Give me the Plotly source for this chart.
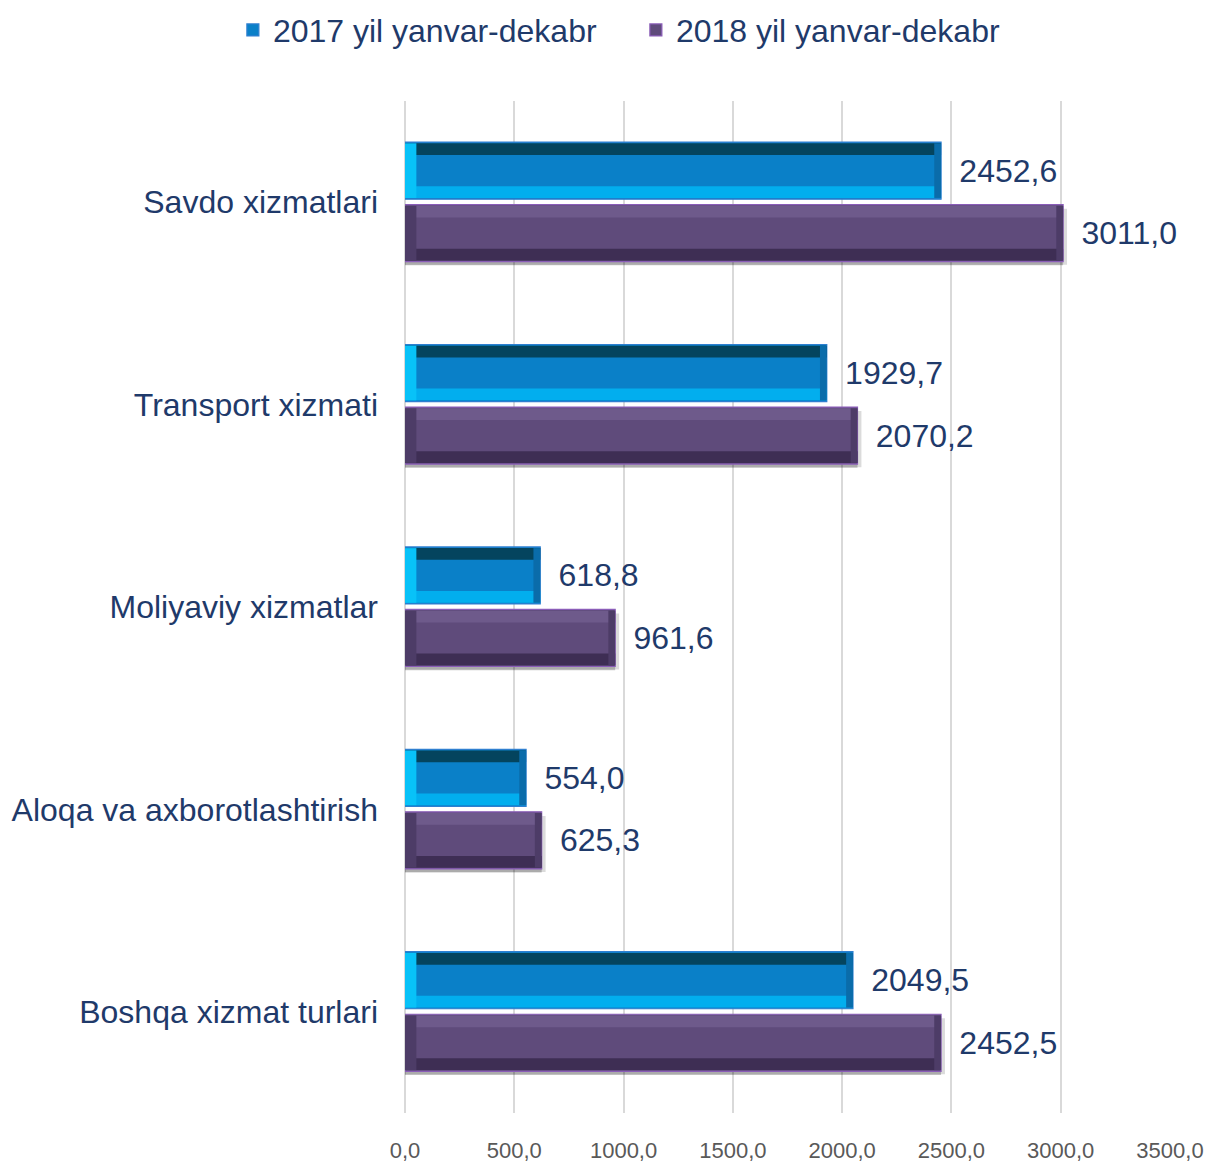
import plotly.graph_objects as go

categories = ["Savdo xizmatlari", "Transport xizmati", "Moliyaviy xizmatlar",
              "Aloqa va axborotlashtirish", "Boshqa xizmat turlari"]
series_names = ["2017 yil yanvar-dekabr", "2018 yil yanvar-dekabr"]
values_2017 = [2452.6, 1929.7, 618.8, 554.0, 2049.5]
values_2018 = [3011.0, 2070.2, 961.6, 625.3, 2452.5]
x_tickvals = [0, 500, 1000, 1500, 2000, 2500, 3000, 3500]

# style constants
BAR_W = 0.282
OFF = [-0.297, 0.012]
STRIP = 0.058
BEVEL = 52
TEXT_COLOR = "#1F3A6A"
FONT = "Liberation Sans, Arial"
styles = [
    dict(main="#0A80C8", top="#04445E", bottom="#02AEEE", left="#08C2F8", right="#0A6CAA", line="#2F7FD0"),
    dict(main="#5F4B7B", top="#6E5A8B", bottom="#3E2E54", left="#4D3C67", right="#4D3C67", line="#8A5DB8"),
]

fig = go.Figure()

# soft shadow behind 2018 bars
fig.add_trace(go.Bar(
    y=categories, x=values_2018, orientation="h", base=0,
    offset=OFF[1] + 0.008, width=BAR_W + 0.01,
    marker=dict(color="rgba(0,0,0,0.22)", line=dict(width=0)),
    showlegend=False, hoverinfo="skip"))
fig.add_trace(go.Bar(
    y=categories, x=[v + 18 for v in values_2018], orientation="h", base=0,
    offset=OFF[1] + 0.02, width=BAR_W - 0.005,
    marker=dict(color="rgba(0,0,0,0.14)", line=dict(width=0)),
    showlegend=False, hoverinfo="skip"))

for vals, name, off, st in zip([values_2017, values_2018], series_names, OFF, styles):
    # main bar (with legend + labels)
    fig.add_trace(go.Bar(
        y=categories, x=vals, orientation="h", name=name,
        offset=off, width=BAR_W,
        marker=dict(color=st["main"], line=dict(color=st["line"], width=1.2)),
        text=vals, texttemplate=" \u2009%{x:.1f}", textposition="outside",
        textfont=dict(color=TEXT_COLOR, size=32, family=FONT),
        constraintext="none", cliponaxis=False))
    # top bevel strip
    fig.add_trace(go.Bar(
        y=categories, x=vals, orientation="h", offset=off + 0.006, width=STRIP,
        marker=dict(color=st["top"], line=dict(width=0)),
        showlegend=False, hoverinfo="skip"))
    # bottom bevel strip
    fig.add_trace(go.Bar(
        y=categories, x=vals, orientation="h", offset=off + BAR_W - STRIP - 0.006, width=STRIP,
        marker=dict(color=st["bottom"], line=dict(width=0)),
        showlegend=False, hoverinfo="skip"))
    # left bevel strip
    fig.add_trace(go.Bar(
        y=categories, x=[BEVEL] * len(vals), base=[0] * len(vals), orientation="h",
        offset=off + 0.006, width=BAR_W - 0.012,
        marker=dict(color=st["left"], line=dict(width=0)),
        showlegend=False, hoverinfo="skip"))
    # right bevel strip
    fig.add_trace(go.Bar(
        y=categories, x=[BEVEL * 0.6] * len(vals), base=[v - BEVEL * 0.6 for v in vals], orientation="h",
        offset=off + 0.006, width=BAR_W - 0.012,
        marker=dict(color=st["right"], line=dict(width=0)),
        showlegend=False, hoverinfo="skip"))

W, H = 1204, 1154  # page has an 8px body margin
fig.update_layout(
    width=W, height=H,
    barmode="overlay",
    separators=", ",
    paper_bgcolor="white", plot_bgcolor="white",
    margin=dict(l=397, r=42, t=93, b=49, autoexpand=False),
    font=dict(family=FONT, color=TEXT_COLOR),
    legend=dict(orientation="h", xref="paper", yref="paper",
                x=-0.225, y=1.070, xanchor="left", yanchor="middle",
                font=dict(size=32, color=TEXT_COLOR, family=FONT), itemwidth=30,
                entrywidth=358, entrywidthmode="pixels",
                traceorder="normal", bgcolor="rgba(0,0,0,0)"),
    xaxis=dict(range=[0, 3500], tickvals=x_tickvals, tickformat=".1f",
               showgrid=True, gridcolor="#D9D9D9", gridwidth=1.5,
               zeroline=True, zerolinecolor="#D9D9D9", zerolinewidth=1.5,
               showline=False, ticks="", automargin=False,
               tickfont=dict(family=FONT, size=22, color="#595959"),
               ticklabelstandoff=22),
    yaxis=dict(type="category", categoryorder="array", categoryarray=categories,
               range=[4.5, -0.5], showgrid=False, showline=False, ticks="",
               automargin=False,
               tickfont=dict(size=32, color=TEXT_COLOR, family=FONT),
               ticklabelstandoff=26),
)

fig.write_html("out.html")
